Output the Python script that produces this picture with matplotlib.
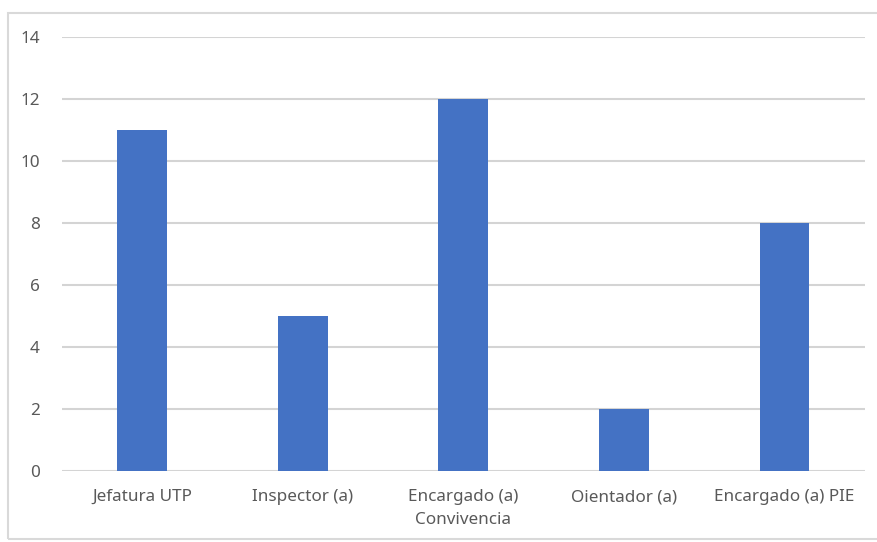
import matplotlib.pyplot as plt
from matplotlib.patches import Rectangle
import numpy as np

categorias = ['Jefatura UTP', 'Inspector (a)', 'Encargado (a)\nConvivencia',
              'Oientador (a)', 'Encargado (a) PIE']
valores = [11, 5, 12, 2, 8]
y_ticks = [0, 2, 4, 6, 8, 10, 12, 14]

plt.rcParams['font.family'] = ['Noto Sans', 'DejaVu Sans']

fig = plt.figure(figsize=(8.77, 5.42), dpi=100)
ax = fig.add_axes([0.0707, 0.131, 0.9153, 0.801])

x = np.arange(len(categorias))
ax.bar(x, valores, width=0.31, color='#4472C4', zorder=3)

ax.set_xlim(-0.5, len(categorias) - 0.5)
ax.set_ylim(0, 14)
ax.set_yticks(y_ticks)
ax.set_xticks(x)
ax.set_xticklabels(categorias, linespacing=1.6)
ax.yaxis.grid(True, color='#d4d4d4', linewidth=1.5, zorder=0)
ax.tick_params(axis='both', length=0, labelsize=12.3, labelcolor='#595959')
ax.tick_params(axis='x', pad=13)
ax.tick_params(axis='y', pad=16)
for s in ax.spines.values():
    s.set_visible(False)

# marco del grafico
fig.patches.append(Rectangle((8 / 877, 3 / 542), 1.0, 526 / 542,
                             transform=fig.transFigure, fill=False,
                             edgecolor='#d9d9d9', linewidth=1.5))

fig.savefig('out.png', dpi=100)
